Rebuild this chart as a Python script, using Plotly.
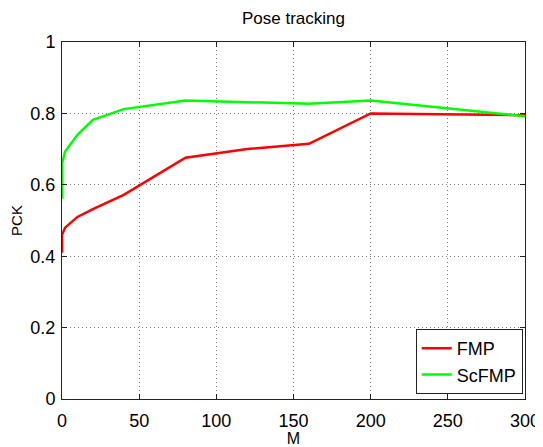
import plotly.graph_objects as go

M = [0, 0, 2, 10, 20, 40, 80, 120, 160, 200, 300]
fmp = [0.41, 0.46, 0.48, 0.51, 0.532, 0.572, 0.676, 0.70, 0.715, 0.80, 0.795]
M_sc = [0, 0, 2, 10, 20, 40, 80, 120, 160, 200, 300]
scfmp = [0.56, 0.66, 0.693, 0.74, 0.782, 0.812, 0.836, 0.831, 0.827, 0.836, 0.792]

font = "Liberation Sans, Arial, Helvetica, sans-serif"

fig = go.Figure()
fig.add_trace(go.Scatter(x=M, y=fmp, mode="lines", name="FMP",
                         line=dict(color="#ff0000", width=2.5)))
fig.add_trace(go.Scatter(x=M_sc, y=scfmp, mode="lines", name="ScFMP",
                         line=dict(color="#00ff00", width=2.5)))

axis_common = dict(
    showline=True, linecolor="#222222", linewidth=1, mirror="ticks",
    ticks="inside", ticklen=5, tickcolor="#222222",
    showgrid=True, gridcolor="#777777", griddash="1px,3px", gridwidth=1,
    zeroline=False, automargin=False,
    tickfont=dict(size=18, color="black", family=font),
)

fig.update_layout(
    width=535, height=439,
    margin=dict(l=54, r=18, t=34, b=48),
    paper_bgcolor="white", plot_bgcolor="white",
    font=dict(family=font, color="black", size=17),
    title=dict(text="Pose tracking", x=0.5, xref="paper", xanchor="center",
               y=0.977, yanchor="middle", font=dict(size=17, family=font)),
    xaxis=dict(range=[0, 300], tickvals=[0, 50, 100, 150, 200, 250, 300],
               ticklabelstandoff=5,
               title=dict(text="M", standoff=3, font=dict(size=16)), **axis_common),
    yaxis=dict(range=[0, 1], tickvals=[0, 0.2, 0.4, 0.6, 0.8, 1],
               ticktext=["0", "0.2", "0.4", "0.6", "0.8", "1"],
               ticklabelstandoff=2,
               title=dict(text="PCK", standoff=8, font=dict(size=15)), **axis_common),
    legend=dict(x=0.995, y=0.014, xanchor="right", yanchor="bottom",
                bordercolor="#222222", borderwidth=1, bgcolor="white",
                font=dict(size=18, family=font), itemwidth=30,
                tracegroupgap=0),
    showlegend=True,
)

fig.write_html("out.html")
